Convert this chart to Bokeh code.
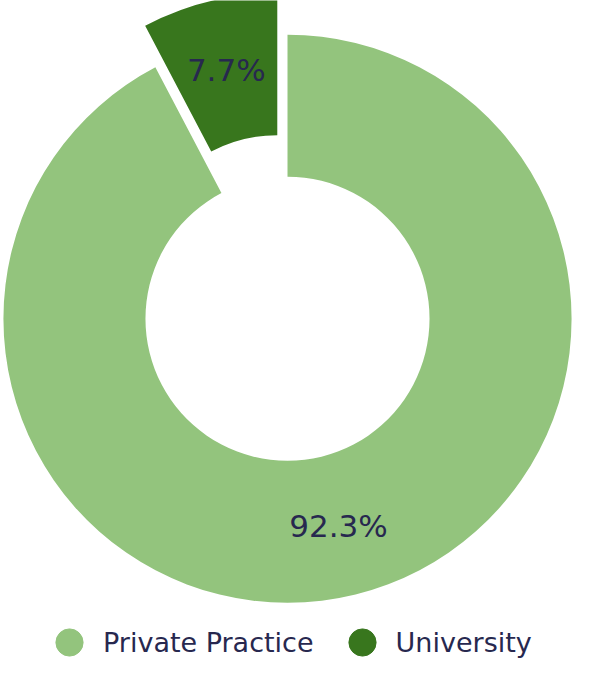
import math
from bokeh.plotting import figure
from bokeh.models import Range1d, Legend, LegendItem, ColumnDataSource
from bokeh.core.properties import value
from bokeh.embed import file_html
from bokeh.resources import INLINE

categories = ["Private Practice", "University"]
values = [92.3, 7.7]
colors = ["#93c47d", "#38761d"]
pulls = [0.0, 0.15]

total = sum(values)
inner, outer = 0.5, 1.0

p = figure(width=574, height=658, output_backend="svg", toolbar_location=None,
           x_range=Range1d(-1.0103, 1.0103), y_range=Range1d(-1.1918, 1.1164),
           min_border=0, x_axis_location=None, y_axis_location=None)
p.grid.visible = False
p.outline_line_color = None
p.background_fill_color = "white"

a0 = math.pi / 2
xs, ys, starts, ends, mids, labels = [], [], [], [], [], []
for cat, v, pl in zip(categories, values, pulls):
    span = v / total * 2 * math.pi
    s, e = a0 - span, a0
    mid = (s + e) / 2
    xs.append(pl * math.cos(mid))
    ys.append(pl * math.sin(mid))
    starts.append(s)
    ends.append(e)
    mids.append(mid)
    labels.append(f"{v / total * 100:.1f}%")
    a0 = s

src = ColumnDataSource(dict(x=xs, y=ys, start=starts, end=ends, color=colors, cat=categories))
p.annular_wedge(x="x", y="y", inner_radius=inner, outer_radius=outer,
                start_angle="start", end_angle="end", fill_color="color",
                line_color=None, source=src)

rmid = (inner + outer) / 2
tsrc = ColumnDataSource(dict(
    x=[x + rmid * math.cos(m) for x, m in zip(xs, mids)],
    y=[y + rmid * math.sin(m) for y, m in zip(ys, mids)],
    t=labels))
p.text(x="x", y="y", text="t", source=tsrc, text_align="center",
       text_baseline="middle", text_font=value("DejaVu Sans"),
       text_font_size="31px", text_color="#27284f")

items = []
for cat, c in zip(categories, colors):
    # off-screen point: only its legend glyph is visible
    r = p.scatter(x=[100], y=[100], marker="circle", fill_color=c, line_color=c)
    items.append(LegendItem(label=cat, renderers=[r]))

legend = Legend(items=items, orientation="horizontal", location=(35, -18),
                glyph_width=68, glyph_height=68, label_standoff=0, spacing=14,
                padding=0, margin=0, background_fill_alpha=0, border_line_color=None,
                label_text_font="DejaVu Sans", label_text_font_size="27px",
                label_text_color="#27284f", label_text_baseline="middle")
p.add_layout(legend)

open("out.html", "w").write(file_html(p, INLINE))
